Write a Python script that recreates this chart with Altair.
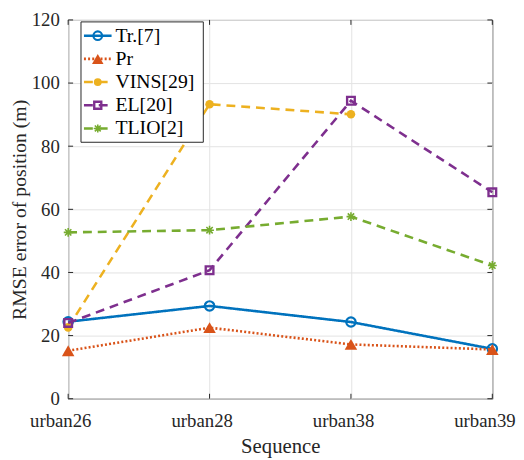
import altair as alt
import pandas as pd

# values
sequences = ["urban26", "urban28", "urban38", "urban39"]
series_names = ["Tr.[7]", "Pr", "VINS[29]", "EL[20]", "TLIO[2]"]
tr_values = [24.4, 29.4, 24.3, 15.8]
pr_values = [15.2, 22.5, 17.2, 15.6]
vins_values = [22.6, 93.3, 90.1, None]
el_values = [24.0, 40.7, 94.4, 65.4]
tlio_values = [52.7, 53.4, 57.7, 42.2]
y_ticks = [0, 20, 40, 60, 80, 100, 120]

series_values = dict(zip(series_names, [tr_values, pr_values, vins_values, el_values, tlio_values]))

W, H = 430, 384
FONT = "Liberation Serif"
AXIS_COLOR = "#262626"
ASTERISK = "M-1,0L1,0M0,-1L0,1M-0.72,-0.72L0.72,0.72M-0.72,0.72L0.72,-0.72"

# matlab-like line styles
styles = {
    "Tr.[7]": dict(color="#0072BD", dash=[1, 0], shape="circle", filled=False, size=90, sw=2.2),
    "Pr": dict(color="#D95319", dash=[2, 2.2], shape="triangle-up", filled=True, size=160, sw=2.2),
    "VINS[29]": dict(color="#EDB120", dash=[9, 6], shape="circle", filled=True, size=75, sw=2.2),
    "EL[20]": dict(color="#7E2F8E", dash=[9, 6], shape="square", filled=False, size=60, sw=2.4),
    "TLIO[2]": dict(color="#77AC30", dash=[9, 6], shape=ASTERISK, filled=False, size=80, sw=1.6),
}

axis_style = dict(labelFont=FONT, labelFontSize=19, labelColor=AXIS_COLOR,
                  titleFont=FONT, titleColor=AXIS_COLOR,
                  titleFontWeight="normal", ticks=False, domain=False, grid=True,
                  gridColor="#e3e3e3", gridWidth=1)

x_scale = alt.Scale(type="point", domain=sequences, padding=0)
y_scale = alt.Scale(domain=[0, 120], nice=False)

x_enc = alt.X(
    "sequence:N", scale=x_scale, sort=sequences,
    axis=alt.Axis(title="Sequence", labelAngle=0, labelPadding=13, labelOffset=-8,
                  titlePadding=6, titleFontSize=21, **axis_style),
)


def y_enc(field, with_axis=False):
    if with_axis:
        return alt.Y(field, scale=y_scale,
                     axis=alt.Axis(title="RMSE error of position (m)", values=y_ticks,
                                   labelPadding=9, titlePadding=2, titleFontSize=20,
                                   **axis_style))
    return alt.Y(field, scale=y_scale, axis=None)


layers = []

# inward tick marks (box on)
ticks_y = pd.DataFrame({"v": y_ticks})
ticks_x = pd.DataFrame({"sequence": sequences})
tick_style = dict(color=AXIS_COLOR, strokeWidth=1)
layers.append(alt.Chart(ticks_y).mark_rule(**tick_style).encode(
    y=y_enc("v:Q", with_axis=True), x=alt.value(0), x2=alt.value(5)))
layers.append(alt.Chart(ticks_y).mark_rule(**tick_style).encode(
    y=y_enc("v:Q"), x=alt.value(W - 5), x2=alt.value(W)))
layers.append(alt.Chart(ticks_x).mark_rule(**tick_style).encode(
    x=x_enc, y=alt.value(H - 5), y2=alt.value(H)))
layers.append(alt.Chart(ticks_x).mark_rule(**tick_style).encode(
    x=x_enc, y=alt.value(0), y2=alt.value(5)))

for name in series_names:
    st = styles[name]
    df = pd.DataFrame({"sequence": sequences, "rmse": series_values[name]}).dropna()
    layers.append(
        alt.Chart(df).mark_line(color=st["color"], strokeWidth=2.6, strokeDash=st["dash"])
        .encode(x=x_enc, y=y_enc("rmse:Q"))
    )
    layers.append(
        alt.Chart(df).mark_point(shape=st["shape"], filled=st["filled"], color=st["color"],
                                 size=st["size"], strokeWidth=st["sw"], opacity=1)
        .encode(x=x_enc, y=y_enc("rmse:Q"))
    )

# legend drawn by hand, matlab style
legend_df = pd.DataFrame({"series": series_names})
leg_y = alt.Y("series:N", sort=series_names,
              scale=alt.Scale(type="point", domain=series_names, range=[16, 110], padding=0),
              axis=None)
layers.append(
    alt.Chart(pd.DataFrame({"box": [1]})).mark_rect(fill="white", stroke=AXIS_COLOR, strokeWidth=1)
    .encode(x=alt.value(13), x2=alt.value(137), y=alt.value(2), y2=alt.value(124))
)
for name in series_names:
    st = styles[name]
    row = legend_df[legend_df["series"] == name]
    layers.append(
        alt.Chart(row).mark_rule(color=st["color"], strokeWidth=2.6, strokeDash=st["dash"])
        .encode(y=leg_y, x=alt.value(16), x2=alt.value(44))
    )
    layers.append(
        alt.Chart(row).mark_point(shape=st["shape"], filled=st["filled"], color=st["color"],
                                  size=st["size"] * 0.85, strokeWidth=st["sw"], opacity=1)
        .encode(y=leg_y, x=alt.value(30))
    )
layers.append(
    alt.Chart(legend_df).mark_text(align="left", baseline="middle", font=FONT, fontSize=20,
                                   color="black")
    .encode(y=leg_y, x=alt.value(48), text="series:N")
)

chart = (
    alt.layer(*layers)
    .resolve_scale(y="independent")
    .properties(width=W, height=H, padding={"left": 61, "right": 24, "top": 9, "bottom": 58},
                autosize=alt.AutoSizeParams(type="none"), background="white")
    .configure(font=FONT)
    .configure_view(stroke=AXIS_COLOR, strokeWidth=1)
)

chart.save("out.html", embed_options={"renderer": "svg", "actions": False})
